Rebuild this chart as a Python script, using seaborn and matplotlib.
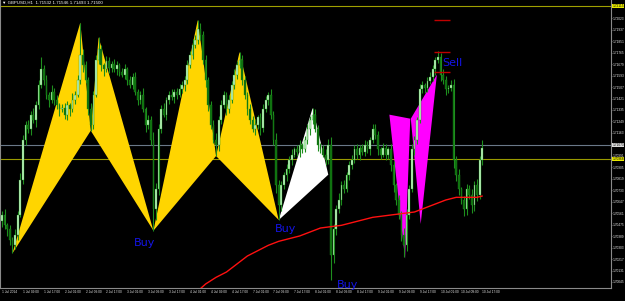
import numpy as np
import matplotlib
matplotlib.use("Agg")
import matplotlib.pyplot as plt
import seaborn as sns
import pandas as pd

# ---------------- data (prices in pips above BASE) ----------------
BASE = 1.70000
PIP = 0.0001

first_open = 50
closes = [55, 47, 44, 36, 32, 40, 55, 81, 111, 122,
          119, 130, 126, 137, 152, 164, 156, 145, 141, 147,
          141, 137, 134, 135, 130, 137, 134, 141, 145, 156,
          175, 167, 156, 134, 122, 145, 171, 179, 167, 164,
          170, 165, 168, 164, 167, 162, 160, 164, 156, 152,
          158, 147, 141, 145, 134, 122, 126, 111, 59, 74,
          119, 134, 130, 141, 145, 143, 147, 145, 149, 152,
          156, 167, 175, 182, 186, 194, 190, 171, 156, 137,
          122, 111, 107, 126, 137, 145, 134, 141, 152, 160,
          167, 171, 156, 145, 134, 126, 119, 122, 128, 120,
          134, 141, 145, 130, 111, 77, 62, 77, 85, 89,
          96, 100, 104, 102, 107, 104, 111, 119, 126, 130,
          119, 107, 104, 100, 96, 107, 25, 44, 59, 66,
          77, 74, 85, 92, 96, 104, 100, 105, 102, 107,
          104, 111, 119, 115, 104, 100, 105, 100, 104, 92,
          77, 66, 55, 40, 32, 55, 74, 104, 111, 126,
          149, 152, 150, 155, 158, 164, 171, 173, 160, 156,
          149, 150, 152, 96, 85, 74, 66, 59, 74, 70,
          62, 77, 70, 96, 105]
up_wick = [3, 4, 2, 3, 2, 4, 3, 5, 4, 3,
           4, 3, 5, 3, 4, 9, 3, 4, 2, 5,
           3, 4, 2, 3, 4, 3, 2, 5, 3, 4,
           24, 4, 3, 2, 5, 3, 4, 9, 3, 2,
           4, 3, 2, 4, 3, 2, 3, 4, 2, 3,
           3, 4, 2, 3, 5, 2, 4, 3, 6, 5,
           4, 3, 5, 2, 3, 4, 2, 3, 4, 3,
           3, 4, 3, 5, 4, 7, 5, 3, 4, 2,
           3, 4, 5, 3, 4, 3, 2, 4, 3, 4,
           3, 6, 4, 3, 2, 4, 3, 5, 2, 3,
           4, 3, 2, 4, 3, 5, 4, 3, 2, 4,
           3, 4, 2, 3, 4, 2, 3, 4, 3, 5,
           4, 3, 2, 3, 4, 5, 6, 4, 3, 5,
           3, 4, 2, 3, 4, 3, 4, 2, 3, 4,
           3, 2, 4, 4, 3, 2, 4, 3, 2, 4,
           3, 2, 4, 3, 5, 4, 3, 4, 3, 2,
           4, 3, 2, 3, 4, 3, 2, 5, 3, 4,
           3, 2, 4, 5, 3, 4, 2, 3, 4, 3,
           4, 3, 5, 3, 6]
dn_wick = [4, 3, 5, 4, 6, 3, 4, 2, 3, 4,
           3, 4, 2, 5, 3, 2, 4, 3, 5, 2,
           4, 3, 5, 2, 3, 4, 5, 2, 3, 2,
           3, 5, 2, 4, 4, 3, 2, 3, 4, 5,
           2, 4, 3, 2, 4, 3, 2, 3, 4, 2,
           3, 2, 4, 3, 2, 5, 3, 4, 16, 8,
           4, 3, 2, 4, 3, 2, 4, 3, 2, 3,
           4, 3, 2, 3, 2, 3, 4, 3, 5, 4,
           3, 2, 8, 4, 3, 2, 4, 3, 2, 3,
           3, 2, 4, 3, 4, 3, 2, 4, 3, 5,
           3, 2, 4, 3, 4, 6, 11, 4, 3, 5,
           3, 4, 2, 3, 4, 3, 2, 3, 4, 3,
           2, 4, 3, 2, 4, 3, 19, 6, 4, 3,
           4, 3, 2, 4, 3, 2, 3, 4, 2, 3,
           3, 4, 2, 3, 4, 3, 2, 4, 3, 4,
           5, 4, 3, 5, 9, 4, 3, 2, 4, 3,
           2, 3, 4, 3, 2, 3, 4, 2, 5, 3,
           4, 3, 2, 6, 5, 4, 3, 5, 4, 3,
           6, 4, 5, 3, 4]

# moving average (red line) vertices
ma_bars = [70, 74, 78, 82, 86, 90, 94, 98, 102, 106, 110, 114, 118, 122, 126,
           130, 134, 138, 142, 146, 150, 154, 158, 162, 166, 170, 174, 178, 182, 184]
ma_pips = [-10, -4, 3, 8, 12, 18, 24, 28, 32, 35, 37, 39, 42, 45, 46,
           47, 49, 51, 53, 54, 55, 56, 57, 60, 63, 66, 68, 68, 68, 69]

# harmonic pattern points (bar, pips)
pat1_bars = [4, 30, 34, 37, 58]
pat1_pips = [26, 199, 118, 188, 43]
pat2_bars = [58, 75, 82, 91, 106]
pat2_pips = [43, 201, 99, 177, 51]
pat3_bars = [106, 119, 125]
pat3_pips = [51, 135, 85]
mag1_bars = [148.4, 156.4, 154.4]
mag1_pips = [130, 127, 22]
mag2_bars = [156.6, 166.6, 160.4]
mag2_pips = [127, 160, 48]

# horizontal levels
grey_level = 107.3
bid_level = 96.8
top_level = 211.5
red_marks = [201, 177, 162]
red_bars = [165.5, 171.5]

# annotations
notes = ["Buy", "Buy", "Buy", "Sell"]
note_bars = [54.5, 108.5, 132.5, 172.5]
note_pips = [34, 44, 2, 169]

# axis labels
xtick_labels = ["1 Jul 2014", "1 Jul 09:00", "1 Jul 17:00", "2 Jul 01:00", "2 Jul 09:00",
                "2 Jul 17:00", "3 Jul 01:00", "3 Jul 09:00", "3 Jul 17:00", "4 Jul 01:00",
                "4 Jul 09:00", "4 Jul 17:00", "7 Jul 01:00", "7 Jul 09:00", "7 Jul 17:00",
                "8 Jul 01:00", "8 Jul 09:00", "8 Jul 17:00", "9 Jul 01:00", "9 Jul 09:00",
                "9 Jul 17:00", "10 Jul 01:00", "10 Jul 09:00", "10 Jul 17:00"]
ytick_prices = [1.70045, 1.70131, 1.70217, 1.70303, 1.70389, 1.70475, 1.70561, 1.70647,
                1.70733, 1.70819, 1.70905, 1.70991, 1.71077, 1.71163, 1.71249, 1.71335,
                1.71421, 1.71507, 1.71593, 1.71679, 1.71765, 1.71851, 1.71937, 1.72023]
title = "\u25bc GBPUSD,H1  1.71532 1.71546 1.71493 1.71500"

# ---------------- styling ----------------
sns.set_theme(style="dark", rc={"axes.facecolor": "black", "figure.facecolor": "black"})
plt.rcParams["font.family"] = ["Liberation Sans", "DejaVu Sans"]

WICK = "#1E8E1E"
BULL = "#BFF7BF"
BEAR = "#0E6E0E"
GOLD = "#FFD500"
MAG = "#FF00FF"
BLUE = "#1414E8"
AXC = "#8A8A8A"
LAB = 2.3

fig = plt.figure(figsize=(6.25, 3.01), dpi=100)
ax = fig.add_axes([0, 13 / 301, 611 / 625, 288 / 301])
ax.set_facecolor("black")

def P(v):
    return BASE + np.asarray(v, dtype=float) * PIP

bars = np.arange(len(closes))
c = P(closes)
o = P([first_open] + closes[:-1])
hi = np.maximum(o, c) + np.asarray(up_wick) * PIP
lo = np.minimum(o, c) - np.asarray(dn_wick) * PIP

# patterns (behind candles)
ax.fill(pat1_bars[:3], P(pat1_pips[:3]), color=GOLD, lw=0, zorder=2)
ax.fill(pat1_bars[2:], P(pat1_pips[2:]), color=GOLD, lw=0, zorder=2)
ax.fill(pat2_bars[:3], P(pat2_pips[:3]), color=GOLD, lw=0, zorder=2)
ax.fill(pat2_bars[2:], P(pat2_pips[2:]), color=GOLD, lw=0, zorder=2)
ax.fill(pat3_bars, P(pat3_pips), color="white", lw=0, zorder=2)
ax.fill(mag1_bars, P(mag1_pips), color=MAG, lw=0, zorder=2)
ax.fill(mag2_bars, P(mag2_pips), color=MAG, lw=0, zorder=2)

# horizontal lines
ax.axhline(P(grey_level), color="#6A7888", lw=0.8, zorder=1)
ax.axhline(P(bid_level), color="#9A9A00", lw=0.8, zorder=1)
ax.axhline(P(top_level), color="#A0A000", lw=0.8, zorder=1)

# candles
ax.vlines(bars, lo, hi, color=WICK, lw=0.8, zorder=3)
bull = c >= o
bear = ~bull
ax.bar(bars[bull], np.maximum(c - o, 0.2 * PIP)[bull], bottom=o[bull], width=0.65,
       color=BULL, edgecolor=WICK, linewidth=0.25, zorder=4)
ax.bar(bars[bear], (o - c)[bear], bottom=c[bear], width=0.65,
       color=BEAR, edgecolor=WICK, linewidth=0.25, zorder=4)

# moving average
sns.lineplot(x=ma_bars, y=P(ma_pips), color="#FF1010", lw=1.0, ax=ax, zorder=5)

# red markers
ax.hlines(P(red_marks), red_bars[0], red_bars[1], color="#C00000", lw=1.0, zorder=5)

# notes
for t, b, p in zip(notes, note_bars, note_pips):
    ax.text(b, P(p), t, color=BLUE, fontsize=8, ha="center", va="center", zorder=6,
            family="DejaVu Sans")

# axes
ax.set_xlim(-0.77, 233.3)
ax.set_ylim(P(0), P(216))
ax.yaxis.tick_right()
ax.set_yticks(ytick_prices)
ax.set_yticklabels([f"{v:.5f}" for v in ytick_prices])
ax.set_xticks(np.arange(0, 8 * len(xtick_labels), 8))
ax.set_xticklabels(xtick_labels, ha="left")
ax.tick_params(axis="both", colors=AXC, labelcolor="#E6E6E6", labelsize=LAB,
               length=1.0, width=0.5, pad=0.6)
ax.tick_params(axis="y", pad=0.3)
ax.grid(False)
ax.spines["top"].set_visible(False)
for s in ["right", "bottom", "left"]:
    ax.spines[s].set_visible(True)
    ax.spines[s].set_color(AXC)
    ax.spines[s].set_linewidth(0.8)

# highlighted price labels
for lvl, fc in [(top_level, "#E8E800"), (bid_level, "#E8E800"), (grey_level, "#DDDDDD")]:
    ax.annotate(f"{BASE + lvl * PIP:.5f}", xy=(1.0, P(lvl)),
                xycoords=("axes fraction", "data"), xytext=(1.1, 0),
                textcoords="offset points", fontsize=LAB, color="black",
                ha="left", va="center", annotation_clip=False,
                bbox=dict(boxstyle="square,pad=0.1", fc=fc, ec="none"), zorder=10)

fig.text(2 / 625, 1 - 3 / 301, title, fontsize=3.2, color="white", ha="left", va="center")

fig.savefig("out.png", dpi=100, facecolor="black")
